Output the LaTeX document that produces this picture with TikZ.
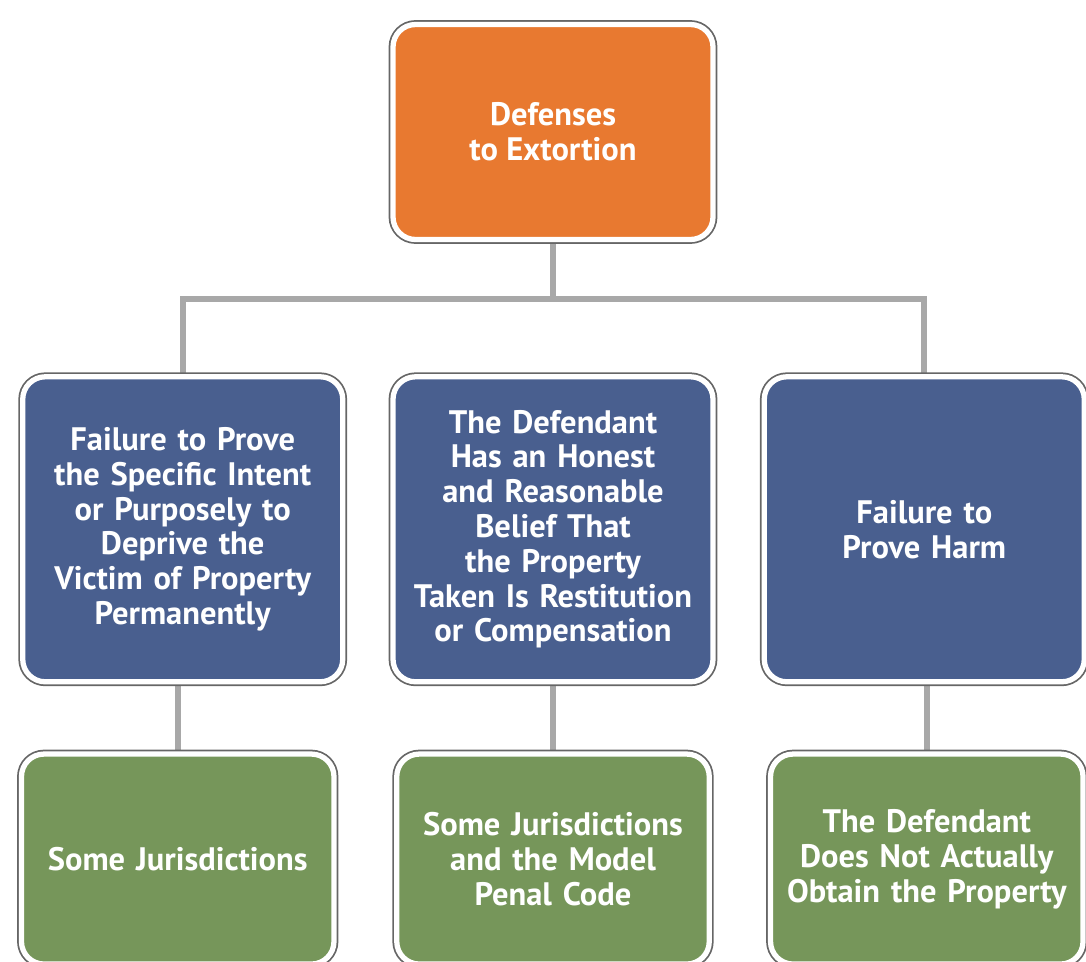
\documentclass[tikz,border=0pt]{standalone}
\usepackage{fontspec}
\setmainfont{PT Sans}
\usetikzlibrary{positioning, backgrounds, calc}

\definecolor{rootorange}{RGB}{232,121,48}
\definecolor{defenseblue}{RGB}{73,95,143}
\definecolor{scopegreen}{RGB}{118,150,90}
\definecolor{linkgray}{RGB}{168,168,168}

\begin{document}
\begin{tikzpicture}[
        card/.style={
            rounded corners=0.45cm,
            align=center,
            text=white,
            font=\fontsize{18.5}{19.8}\selectfont\bfseries,
            preaction={draw=black!60, line width=5pt},
            draw=white,
            line width=3pt,
            inner sep=0pt
        },
        rootcard/.style={
            card,
            fill=rootorange,
            minimum width=6.4cm,
            minimum height=4.3cm
        },
        defensecard/.style={
            card,
            fill=defenseblue,
            text width=6.0cm,
            minimum width=6.4cm,
            minimum height=6.1cm
        },
        scopecard/.style={
            card,
            fill=scopegreen,
            text width=6.0cm,
            minimum width=6.25cm,
            minimum height=4.2cm
        },
        link/.style={
            linkgray,
            line width=3.4pt
        }
    ]

        \useasboundingbox (0,0) rectangle (21.72,-19.22);

        % ---------------------------------------------------------------------
        % Root
        % ---------------------------------------------------------------------

        \node[rootcard] (root) at (11.06,-2.64) {
            Defenses\\
            to Extortion
        };

        % ---------------------------------------------------------------------
        % Defenses
        % ---------------------------------------------------------------------

        \node[
            defensecard,
            below=2.64cm of root
        ] (defense2) {
            The Defendant\\
            Has an Honest\\
            and Reasonable\\
            Belief That\\
            the Property\\
            Taken Is Restitution\\
            or Compensation
        };

        \node[
            defensecard,
            left=0.9cm of defense2
        ] (defense1) {
            Failure to Prove\\
            the Specific Intent\\
            or Purposely to\\
            Deprive the\\
            Victim of Property\\
            Permanently
        };

        \node[
            defensecard,
            right=0.92cm of defense2
        ] (defense3) {
            Failure to\\
            Prove Harm
        };

        % ---------------------------------------------------------------------
        % Where each defense applies
        % ---------------------------------------------------------------------

        \node[
            scopecard,
            below=1.34cm of defense1,
            xshift=-0.1cm
        ] (scope1) {
            Some Jurisdictions
        };

        \node[
            scopecard,
            below=1.34cm of defense2
        ] (scope2) {
            Some Jurisdictions\\
            and the Model\\
            Penal Code
        };

        \node[
            scopecard,
            below=1.34cm of defense3,
            xshift=0.05cm
        ] (scope3) {
            The Defendant\\
            Does Not Actually\\
            Obtain the Property
        };

        % ---------------------------------------------------------------------
        % Connectors
        % ---------------------------------------------------------------------

        \begin{scope}[on background layer]
            \coordinate (bus) at ($(root.south)+(0,-1.14)$);
            \draw[link] (root.south) -- (bus);
            \draw[link, line cap=rect] (defense1.north) |- (bus) -| (defense3.north);
            \draw[link] (scope1.north) -- (scope1.north |- defense1.south);
            \draw[link] (scope2.north) -- (scope2.north |- defense2.south);
            \draw[link] (scope3.north) -- (scope3.north |- defense3.south);
        \end{scope}

    \end{tikzpicture}
\end{document}
